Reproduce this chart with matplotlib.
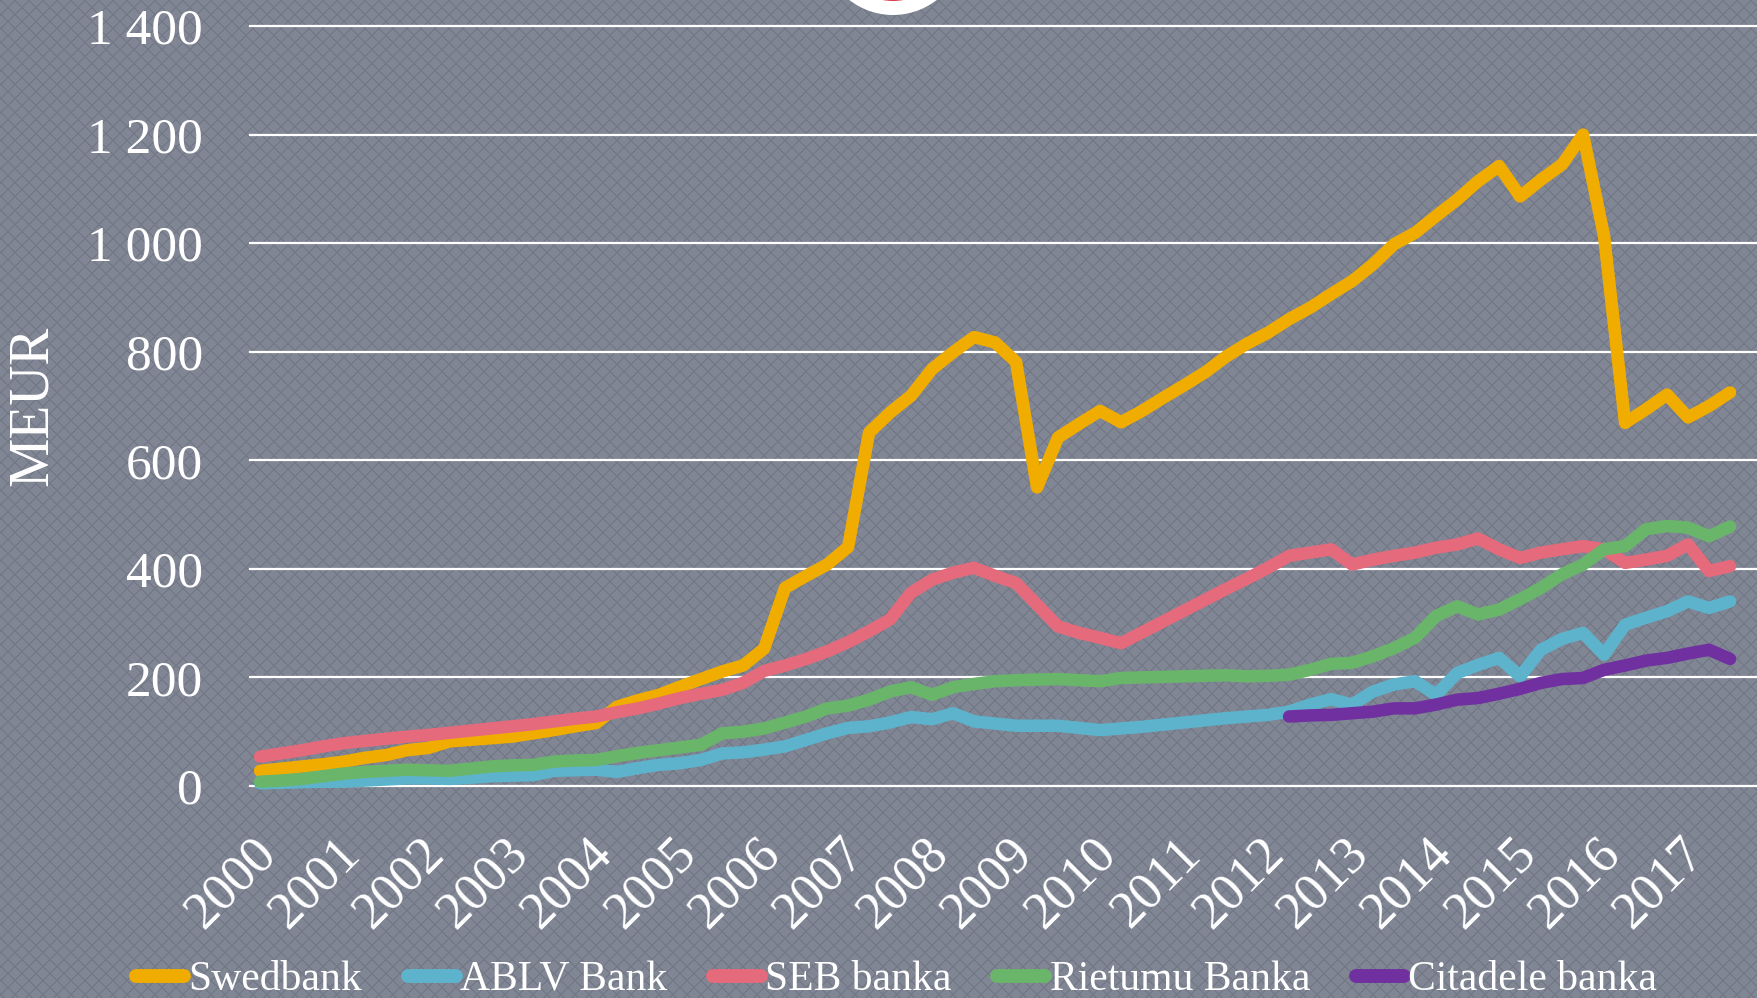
import numpy as np
import matplotlib.pyplot as plt
from matplotlib.patches import Circle
from matplotlib.transforms import IdentityTransform, ScaledTranslation

# quarterly values, 2000Q1 .. 2017Q3, MEUR
years = list(range(2000, 2018))
swedbank = [28, 32, 36, 40, 45, 52, 57, 66, 70, 82,
            85, 88, 91, 97, 103, 110, 116, 146, 158, 168,
            183, 197, 211, 222, 253, 365, 387, 408, 440, 651,
            688, 719, 768, 799, 827, 817, 781, 550, 642, 667,
            691, 670, 691, 715, 738, 762, 791, 815, 835, 860,
            881, 906, 930, 961, 998, 1019, 1050, 1080, 1114, 1142,
            1086, 1117, 1145, 1200, 1013, 669, 694, 721, 679, 700,
            725]
ablv = [5, 6, 7, 8, 8, 10, 12, 14, 14, 13,
        15, 18, 19, 20, 28, 29, 30, 26, 33, 39,
        42, 48, 60, 62, 67, 73, 85, 97, 107, 110,
        117, 127, 123, 134, 119, 115, 111, 111, 111, 107,
        103, 106, 109, 113, 117, 121, 125, 128, 131, 137,
        150, 160, 150, 174, 187, 193, 168, 208, 223, 236,
        202, 251, 271, 282, 242, 297, 310, 322, 340, 328,
        340]
seb = [54, 60, 66, 73, 79, 83, 87, 91, 94, 98,
       102, 106, 110, 114, 119, 124, 128, 136, 143, 152,
       162, 170, 177, 190, 212, 222, 234, 248, 265, 285,
       307, 356, 380, 393, 402, 387, 374, 334, 294, 282,
       273, 263, 283, 303, 323, 343, 363, 382, 402, 424,
       430, 436, 408, 417, 424, 430, 439, 445, 456, 436,
       420, 430, 436, 442, 436, 411, 417, 424, 445, 396,
       405]
rietumu = [8, 10, 13, 18, 23, 26, 28, 30, 29, 28,
           32, 36, 38, 39, 45, 47, 48, 55, 61, 66,
           71, 76, 97, 100, 106, 117, 128, 143, 148, 159,
           174, 182, 168, 182, 188, 193, 195, 196, 197, 195,
           193, 199, 200, 201, 202, 203, 204, 202, 203, 205,
           214, 225, 227, 239, 254, 273, 313, 331, 316, 325,
           344, 365, 390, 408, 436, 442, 473, 479, 476, 460,
           478]
citadele_start = 49  # 2012Q2
citadele = [128, 130, 131, 134, 137, 143, 143, 150, 159, 162, 170,
            179, 190, 197, 199, 214, 222, 231, 236, 244, 251, 234]

series = [
    ("Swedbank", swedbank, "#F0AD00"),
    ("ABLV Bank", ablv, "#5DB3CB"),
    ("SEB banka", seb, "#E56A7B"),
    ("Rietumu Banka", rietumu, "#69B66B"),
    ("Citadele banka", citadele, "#7030A0"),
]

plt.rcParams['font.family'] = ['Liberation Serif', 'DejaVu Serif']

W, H = 1758, 998
fig = plt.figure(figsize=(W / 100, H / 100), dpi=100)
fig.patch.set_facecolor("#7E8395")

# background texture (diamond lattice), kept subtle
yy, xx = np.mgrid[0:H, 0:W]
dark = (((xx + yy) % 14) < 2) | (((xx - yy) % 14) < 2)
tex = np.empty((H, W, 3), dtype=np.uint8)
tex[:] = (129, 134, 149)
tex[dark] = (116, 121, 136)
fig.figimage(tex, 0, 0, zorder=-10)

ax = fig.add_axes([250 / W, 1 - 786 / H, 1 - 250 / W, (786 - 26) / H])
ax.set_facecolor("none")
for s in ax.spines.values():
    s.set_visible(False)

ax.set_ylim(0, 1400)
ax.set_xlim(-0.48, 71.33)
yt = np.arange(0, 1401, 200)
ax.set_yticks(yt)
ax.set_yticklabels([f"{v:,}".replace(",", " ") for v in yt])
ax.grid(axis="y", color="white", lw=1.6)
ax.set_axisbelow(True)
for g in ax.get_ygridlines():
    g.set_clip_on(False)

ax.set_xticks(np.arange(0, 4 * len(years), 4))
ax.set_xticklabels([str(y) for y in years])
ax.tick_params(axis="both", length=0, colors="white")
ax.tick_params(axis="y", labelsize=37, pad=34)
ax.tick_params(axis="x", labelsize=38, pad=0)
off = ScaledTranslation(0.09, -0.60, fig.dpi_scale_trans)
for lab in ax.get_xticklabels():
    lab.set_rotation(45)
    lab.set_ha("right")
    lab.set_va("center")
    lab.set_rotation_mode("anchor")
    lab.set_transform(lab.get_transform() + off)

ax.set_ylabel("MEUR", color="white", fontsize=40)
ax.yaxis.set_label_coords(-0.127, 0.5)

for name, vals, col in series:
    if name == "Citadele banka":
        x = np.arange(citadele_start, citadele_start + len(vals))
    else:
        x = np.arange(len(vals))
    ax.plot(x, vals, color=col, lw=9, label=name, solid_capstyle="round",
            solid_joinstyle="round", clip_on=False)

leg = fig.legend(loc="center", bbox_to_anchor=(0.51, 0.018), ncol=5, frameon=False,
                 fontsize=30, handlelength=1.15, handletextpad=0.1, columnspacing=1.1)
for t in leg.get_texts():
    t.set_color("white")
for h in leg.legend_handles:
    h.set_linewidth(10)

# logo circle cut off at the top
fig.add_artist(Circle((893, H + 56), 71, transform=IdentityTransform(),
                      facecolor="white", edgecolor="none", zorder=5))
fig.add_artist(Circle((893, H + 56), 57, transform=IdentityTransform(),
                      facecolor="#D6404C", edgecolor="none", zorder=6))

fig.savefig("out.png", dpi=100, facecolor=fig.get_facecolor())
